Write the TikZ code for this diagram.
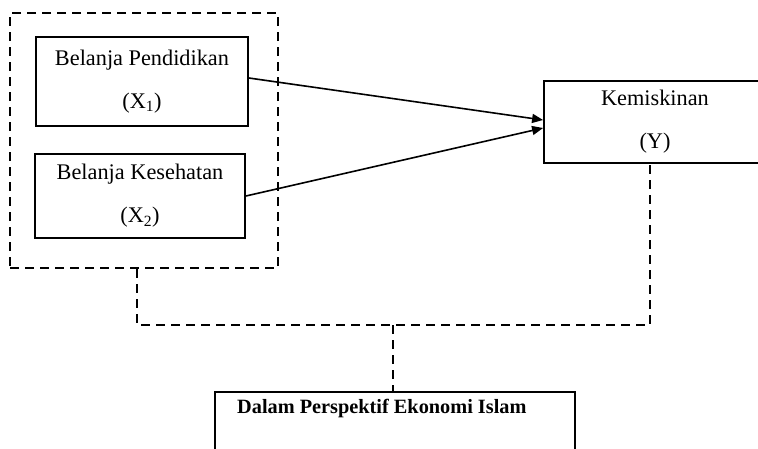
\documentclass[tikz,border=0pt]{standalone}
\usepackage{fontspec}
\setmainfont{Liberation Serif}
\usetikzlibrary{arrows.meta,calc}
\tikzset{
  varbox/.style={draw, line width=1.8pt, align=center, inner sep=0pt,
    font={\fontsize{22.3}{43}\selectfont}},
  dashline/.style={line width=2.8pt, dash pattern=on 9pt off 6pt},
  arr/.style={line width=1.6pt, -{Triangle[length=11pt,width=9pt]}}
}
\begin{document}
\begin{tikzpicture}[x=1pt,y=-1pt]
\useasboundingbox (0,0) rectangle (758,448);
\clip (0,0) rectangle (758,448);
% outer dashed group
\node[draw, dashline, minimum width=268pt, minimum height=255pt, inner sep=0pt] (grp) at (144,140.5) {};
\node[varbox, minimum width=212pt, minimum height=89pt] (x1) at (142,81.5) {Belanja Pendidikan\\(X\textsubscript{1})};
\node[varbox, minimum width=210pt, minimum height=84pt] (x2) at (140,196) {Belanja Kesehatan\\(X\textsubscript{2})};
\node[varbox, minimum width=222pt, minimum height=82pt] (y) at (655,122) {Kemiskinan\\(Y)};
\node[draw, line width=1.8pt, minimum width=360pt, minimum height=80pt, inner sep=0pt] (bot) at (395,432) {};
\node[anchor=west, inner sep=0pt, font={\fontsize{20.3}{22}\selectfont\bfseries}] (botlabel) at (237,409) {Dalam Perspektif Ekonomi Islam};
% arrows
\draw[arr] ($(x1.east)+(0,-3.5)$) -- ($(y.west)+(0,-2)$);
\draw[arr] (x2.east) -- ($(y.west)+(0,6)$);
% dashed links
\coordinate (gl) at (137,325);
\coordinate (yc) at (650,325);
\coordinate (j) at (393,325);
\draw[dashline] (grp.south -| gl) -- (gl) -- (yc) -- (yc |- y.south);
\draw[dashline] (j) -- (j |- bot.north);
\end{tikzpicture}
\end{document}
